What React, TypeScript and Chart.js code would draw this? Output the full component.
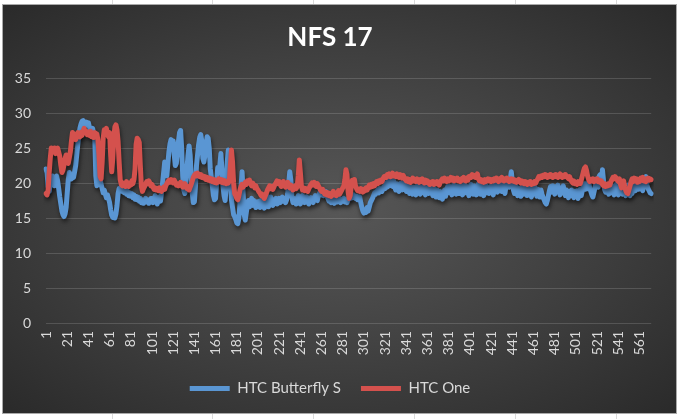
import React, { useEffect, useRef } from "react";
import { Chart, registerables } from "chart.js";

Chart.register(...registerables);

const TITLE = "NFS 17";
const SERIES_NAMES = ["HTC Butterfly S", "HTC One"];
const POINT_COUNT = 572;
const LABEL_STEP = 20;
const categories: string[] = Array.from({ length: POINT_COUNT }, (_, i) => String(i + 1));
const yTicks = [0, 5, 10, 15, 20, 25, 30, 35];

const butterflyS = [
  22, 21.5, 19.5, 18.8, 20, 20.5, 21, 20.2, 19.6, 20.4, 21, 20.3, 19.2, 18, 17, 16, 15.5, 15.2, 15.6, 16.5,
  18.5, 20.5, 21.5, 21, 20.6, 21.2, 20.8, 21.6, 22.5, 24, 25.5, 26.8, 27.8, 28.4, 28.8, 28.9, 28.6, 28.2, 28.7, 28.4,
  28.6, 28, 27.5, 27.2, 27.8, 27, 26.5, 21, 19.6, 20.3, 19.8, 20.6, 19.8, 19.2, 18.6, 19, 18.4, 17.9, 18.3, 17.8,
  17.2, 16.2, 15.4, 15.1, 15.3, 15, 15.6, 16.8, 18.5, 19.2, 19, 19.4, 18.8, 19.2, 18.6, 19, 18.4, 18.8, 18.2, 18.6,
  18.1, 18.5, 17.9, 18.3, 17.7, 18.1, 17.6, 18, 17.4, 17.8, 17.2, 17.6, 17.1, 17.5, 17.8, 17.3, 17.6, 17.1, 17.5, 17.8,
  17.8, 17.2, 17.6, 18.2, 17.5, 17, 17.6, 18, 17.4, 18.6, 20, 21.5, 23, 22, 21, 22.8, 24.5, 25.6, 26.2, 25.5,
  26, 24, 22.5, 22.8, 24.5, 26, 27.2, 27.5, 25, 21, 19, 18.5, 20, 22, 24, 25.3, 24, 21, 18.5, 17.2,
  17.3, 19.5, 22.5, 24, 25.5, 26.5, 26.9, 26, 23.5, 23, 24, 25.5, 26.6, 26.4, 25, 22, 20.8, 19.5, 18.2, 17.6,
  17.8, 20, 22.2, 21.5, 22.5, 24.2, 22, 19.5, 18.2, 17.5, 19.5, 23, 24.7, 23.5, 20, 17.6, 16.5, 15.5, 15.2, 14.8,
  14.3, 14.2, 15, 17, 19.5, 21.6, 18.5, 15.5, 14.7, 15.8, 16.8, 17.5, 16.6, 17.2, 17.8, 16.8, 17.5, 17, 16.5, 17.3,
  16.8, 17.4, 16.5, 17.2, 17.8, 17, 16.4, 17.5, 18.3, 17.2, 16.6, 17.4, 18, 17.2, 16.8, 17.6, 17.2, 17.8, 17, 17.5,
  17.8, 17.2, 17.6, 18, 17.4, 17.8, 17.2, 17.6, 18.5, 20, 21.6, 20.5, 18, 17.2, 17.8, 17.5, 17, 17.8, 18.2, 17.4,
  17, 17.6, 18.2, 17.5, 17.2, 17.8, 18, 17.3, 17, 17.6, 17.9, 17.4, 17.2, 17.8, 18.2, 17.6, 17.5, 18.2, 18.5, 18.8,
  18.3, 18.6, 18.2, 18.5, 18.8, 18.2, 17.8, 17.4, 17.6, 17.2, 17.8, 17.4, 17.1, 17.6, 17.8, 17.3, 17.5, 17.8, 17.2, 17.6,
  17.5, 17.8, 17.3, 17.6, 17.2, 17.6, 18, 17.8, 18.2, 17.9, 18.3, 18, 17.8, 18.1, 17.6, 17.8, 18, 17.2, 16.5, 16,
  15.7, 16.2, 15.8, 16.5, 16, 16.6, 17.2, 17.5, 17.8, 18.2, 18.6, 18.4, 18.8, 19, 18.6, 19.2, 19, 18.8, 19.3, 19.5,
  19.2, 20, 19.4, 20.4, 19.6, 20.2, 20.5, 19.5, 20.3, 19.4, 19, 19.9, 19.2, 18.8, 19.7, 20, 19, 19.6, 20.1, 19.2,
  18.8, 19.7, 19.1, 18.5, 19.5, 18.9, 18.4, 19.4, 18.8, 18.3, 19.3, 19.8, 18.7, 18.4, 19.4, 18.6, 19.6, 18.9, 18.3, 19.2,
  19.5, 18.5, 19.1, 19.7, 18.6, 18.2, 19.3, 18.5, 18, 19, 18.3, 17.9, 18.8, 18.1, 17.7, 18.6, 19, 18.1, 19.1, 19.5,
  18.6, 19.5, 18.9, 18.3, 19.4, 19.8, 18.8, 18.4, 19.5, 18.9, 18.5, 19.6, 19, 18.3, 19.3, 19.8, 18.6, 19.5, 18.9, 18.2,
  19.3, 19.8, 18.8, 18.4, 19.6, 19, 18.3, 19.4, 19.9, 19.1, 18.4, 19.5, 18.9, 18.2, 19.2, 19.7, 18.6, 19.4, 18.5, 19.2,
  19.6, 18.8, 18.3, 19.3, 19.9, 19.2, 18.7, 19.6, 20.1, 19.3, 18.8, 19.8, 19.2, 18.5, 19.5, 20, 20.5, 19.4, 20.6, 21.6,
  20.3, 19, 18.5, 19.6, 18.8, 18.2, 19.3, 18.6, 18.1, 19.1, 19.6, 18.4, 18.8, 19.5, 18.2, 18.8, 19.6, 18.6, 18, 19.1,
  18.5, 19.5, 18.8, 18.1, 19.1, 18.5, 18, 19, 18.4, 17.9, 17.6, 17.2, 17, 17.5, 18.2, 18.9, 19.5, 18.7, 19.6, 19,
  18.4, 19.5, 18.7, 19.7, 19, 18.3, 19.3, 18.6, 19.6, 18.8, 18.2, 19, 18.4, 17.9, 18.8, 18.2, 19, 18.3, 17.9, 18.8,
  18.1, 18.9, 17.8, 18.6, 19.1, 18.2, 18.9, 19.4, 19.9, 19.1, 19.9, 19.2, 20.1, 19.3, 18.8, 18.3, 18, 18.7, 19.4, 20,
  20.6, 19.4, 21, 21.2, 20, 21.9, 20.4, 19.1, 18.7, 19.7, 18.9, 18.4, 19.4, 18.6, 19.6, 18.8, 18.3, 19.3, 19.8, 18.7,
  18.3, 19.4, 19.9, 18.8, 18.4, 19.5, 18.7, 18.2, 19.2, 19.7, 18.6, 18.2, 19.3, 18.5, 19.5, 19.9, 18.9, 19.7, 20.2, 19.1,
  19.9, 20.4, 19.3, 18.9, 20, 20.5, 20.9, 19.7, 19.2, 18.9, 18.6, 18.5,
];

const htcOne = [
  18.5, 18.3, 19, 21.5, 23.5, 25, 24.8, 24.5, 25, 24.2, 24.6, 25, 24.4, 23.8, 22.5, 21.5, 21.8, 22.6, 23.5, 24,
  23.2, 22.8, 23.6, 24.5, 26, 27.2, 27, 26.6, 26.2, 26.8, 27.2, 27, 26.6, 27.2, 26.8, 27.4, 27.8, 27.2, 27.4, 26.9,
  27.2, 26.8, 27.4, 26.6, 27, 26.5, 27.2, 26.8, 27, 26.2, 24, 21, 20.6, 23, 26.5, 27.6, 27.2, 27.8, 27, 26.6,
  27.2, 24, 21.6, 23.5, 26.5, 28, 28.3, 27.6, 26, 23, 20.5, 19.8, 19.6, 20, 19.8, 19.5, 20.2, 19.8, 19.5, 20,
  19.7, 20.3, 19.9, 20.5, 22, 25.5, 26.4, 26.2, 25.8, 22.5, 19.5, 18.8, 19.2, 19.5, 19.8, 20.2, 19.9, 20.3, 20, 19.6,
  19.8, 19.4, 19.1, 19.3, 19, 19.2, 18.9, 19.3, 19.1, 18.8, 19.2, 19.4, 19.1, 19.6, 19.9, 20.2, 20.4, 20.1, 20.5, 20.3,
  20, 20.4, 20.1, 19.7, 19.9, 19.6, 19.8, 20.1, 19.7, 19.4, 19.6, 19.9, 19.5, 19.2, 19.5, 19, 19.4, 19.8, 20.3, 20.8,
  21.1, 21.3, 21, 21.4, 21.2, 20.9, 21.2, 20.8, 21, 20.7, 20.9, 20.5, 20.8, 20.4, 20.7, 20.3, 20.6, 20.2, 20.5, 20.1,
  20.4, 20, 20.3, 20.6, 20.2, 20.5, 20.1, 20.4, 20, 20.3, 19.9, 20.2, 20, 20.4, 22.5, 24.7, 23, 20, 18.5, 18.2,
  17.8, 17.6, 18.2, 19, 19.5, 19.8, 19.4, 19.7, 20.1, 19.8, 20.3, 20, 20.4, 19.9, 19.6, 20, 19.7, 19.3, 19.6, 19.2,
  19, 18.7, 18.5, 18.2, 18.4, 18, 17.8, 18.2, 18.6, 19, 19.3, 19.6, 19.2, 19.5, 19.1, 19.4, 19.8, 20, 20.3, 19.9,
  20.2, 19.8, 19.5, 19.9, 20.2, 19.7, 19.4, 19.8, 20.1, 19.6, 19.3, 19.7, 19.4, 19, 19.3, 19.6, 19.2, 19.5, 21, 23.3,
  21.5, 19.5, 19, 19.3, 18.9, 19.2, 19, 18.8, 19.2, 19.5, 19.8, 20, 19.7, 20.1, 19.8, 19.5, 19.9, 19.6, 19.3, 19,
  18.8, 19.1, 18.7, 18.4, 18.7, 18.3, 18.6, 18.2, 18.5, 18.1, 18.4, 18.8, 18.3, 18.6, 18.2, 18.5, 18.9, 18.4, 18.7, 19,
  19.3, 19.6, 20.5, 21.9, 21.2, 18.8, 17.8, 18.2, 19.5, 20.4, 20.2, 20.5, 19.6, 19.2, 18.9, 19.1, 18.8, 19.2, 19, 18.7,
  19.1, 18.9, 19.3, 19, 19.4, 19.7, 19.4, 19.8, 19.5, 19.9, 19.6, 20, 20.2, 19.9, 20.3, 20.1, 20.4, 20.2, 20.6, 20.9,
  21, 20.8, 21.2, 21, 21.3, 20.9, 21.1, 21.4, 21, 21.2, 20.9, 21.3, 21.1, 20.8, 21.2, 21, 20.7, 21.1, 20.8, 20.5,
  20.3, 20.6, 20.2, 20.5, 20.1, 20.4, 20.7, 20.3, 20.5, 20.2, 20.6, 20.3, 20.1, 20.5, 20.2, 20.6, 20.3, 20, 20.4, 20.1,
  20.3, 20, 19.8, 20.1, 19.9, 20.2, 19.8, 20.1, 19.9, 20.2, 20, 19.7, 20.1, 20.4, 20.6, 20.3, 20.7, 20.4, 20.2, 20.6,
  20.3, 20.5, 20.8, 20.4, 20.7, 20.3, 20.6, 20.4, 20.7, 20.3, 20.5, 20.2, 20.6, 20.4, 20.8, 20.5, 20.3, 20.7, 20.4, 20.9,
  21, 20.8, 21.2, 20.9, 21.1, 20.8, 21, 21.3, 20.6, 20.3, 20.5, 20.2, 20.4, 20.1, 20.5, 20.2, 20.4, 20.6, 20.3, 20.5,
  20.2, 20.5, 20.3, 20.6, 20.4, 20.7, 20.5, 20.2, 20.6, 20.4, 20.8, 20.5, 20.3, 20.6, 20.4, 20.7, 20.5, 20.2, 20.4, 20.6,
  20.3, 20.5, 20.2, 20.4, 20.1, 20.3, 20.5, 20.2, 20, 20.3, 20.1, 19.9, 20.2, 20, 19.8, 20.1, 19.9, 20.2, 19.8, 20,
  19.9, 20.2, 20, 20.3, 20.6, 20.9, 20.7, 21, 20.8, 21.1, 20.9, 21.2, 21, 20.8, 21.1, 20.9, 21.2, 21, 20.8, 21.1,
  20.9, 21.2, 21, 20.8, 21.1, 21.3, 21, 20.8, 21.1, 20.9, 21.2, 21, 20.8, 20.6, 20.9, 20.5, 20.2, 20, 20.3, 19.9,
  20.1, 19.8, 20.2, 20, 19.9, 20.4, 21, 21.6, 22.1, 22.3, 21.8, 21, 20.5, 20.2, 20.5, 20.3, 20.6, 20.2, 20.5, 20.3,
  20.6, 20.2, 20.4, 20.1, 20.3, 19.8, 19.6, 19.9, 19.5, 19.8, 19.6, 19.9, 19.7, 20.2, 20.5, 20.8, 20.6, 20.9, 20.7, 20.4,
  20.2, 20.6, 19.8, 19.3, 19.8, 20.3, 19.5, 18.9, 18.6, 18.5, 19, 19.6, 20.2, 20.6, 20.2, 20.7, 20.3, 20.6, 20.1, 20.5,
  20.2, 20.7, 20.4, 20.8, 20.3, 20.6, 20.2, 20.5, 20.7, 20.4, 20.6, 20.5,
];

const BLUE = "#5a96d3";
const RED = "#d4514d";
const TEXT = "#d9d9d9";
const FONT = "Lato, 'Open Sans', sans-serif";

export default function App() {
  const canvasRef = useRef<HTMLCanvasElement | null>(null);

  useEffect(() => {
    const canvas = canvasRef.current;
    if (!canvas) return;

    const shadowPlugin = {
      id: "lineShadow",
      beforeDatasetsDraw(chart: any) {
        const c = chart.ctx;
        c.save();
        c.shadowColor = "rgba(0,0,0,0.55)";
        c.shadowBlur = 4;
        c.shadowOffsetX = 1;
        c.shadowOffsetY = 3;
      },
      afterDatasetsDraw(chart: any) {
        chart.ctx.restore();
      },
    };

    const chart = new Chart(canvas, {
      type: "line",
      data: {
        labels: categories,
        datasets: [
          {
            label: SERIES_NAMES[0],
            data: butterflyS,
            borderColor: BLUE,
            backgroundColor: BLUE,
            borderWidth: 5,
            pointRadius: 0,
            tension: 0,
            borderJoinStyle: "round",
            borderCapStyle: "round",
            order: 2,
          },
          {
            label: SERIES_NAMES[1],
            data: htcOne,
            borderColor: RED,
            backgroundColor: RED,
            borderWidth: 5,
            pointRadius: 0,
            tension: 0,
            borderJoinStyle: "round",
            borderCapStyle: "round",
            order: 1,
          },
        ],
      },
      options: {
        responsive: false,
        animation: false,
        devicePixelRatio: 1,
        layout: { padding: { left: 0, right: 19, top: 0, bottom: 7 } },
        plugins: {
          tooltip: { enabled: false },
          title: {
            display: true,
            text: TITLE,
            color: "#ffffff",
            font: { family: FONT, size: 26, weight: "bold", lineHeight: 1.2 },
            padding: { top: 17.4, bottom: 24.4 },
          },
          legend: {
            display: true,
            position: "bottom",
            labels: {
              color: TEXT,
              font: { family: FONT, size: 15 },
              boxWidth: 40,
              boxHeight: 5,
              padding: 20,
              sort: (a: any, b: any) => a.datasetIndex - b.datasetIndex,
              generateLabels: (ch: any) =>
                Chart.defaults.plugins.legend.labels
                  .generateLabels(ch)
                  .map((l: any) => ({ ...l, lineWidth: 0, fillStyle: l.strokeStyle })),
            },
          },
        },
        scales: {
          x: {
            type: "category",
            offset: false,
            grid: { display: false, drawTicks: false },
            border: { display: false },
            ticks: {
              autoSkip: false,
              minRotation: 90,
              maxRotation: 90,
              padding: 8,
              color: TEXT,
              font: { family: FONT, size: 14 },
              callback: (_v: any, i: number) => (i % LABEL_STEP === 0 ? categories[i] : ""),
            },
            afterFit: (s: any) => {
              s.height = 38;
            },
          },
          y: {
            min: yTicks[0],
            max: yTicks[yTicks.length - 1],
            grid: { color: "rgba(255,255,255,0.15)", lineWidth: 1, drawTicks: false },
            border: { display: false },
            ticks: {
              stepSize: 5,
              padding: 15,
              color: TEXT,
              font: { family: FONT, size: 14 },
            },
            afterFit: (s: any) => {
              s.width = 43;
            },
          },
        },
      },
      plugins: [shadowPlugin],
    });

    return () => chart.destroy();
  }, []);

  const cellLines = [112, 212, 313, 414, 515, 616];

  return (
    <div style={{ position: "relative", width: 680, height: 419, background: "#ffffff", overflow: "hidden" }}>
      <style>{`body{margin:0;background:#fff}`}</style>
      {cellLines.map((x) => (
        <div key={"t" + x} style={{ position: "absolute", left: x, top: 0, width: 1, height: 5, background: "#dadada" }} />
      ))}
      {cellLines.map((x) => (
        <div key={"b" + x} style={{ position: "absolute", left: x, top: 413, width: 1, height: 6, background: "#dadada" }} />
      ))}
      <div
        style={{
          position: "absolute",
          left: 3,
          top: 5,
          width: 673,
          height: 408,
          background: "radial-gradient(ellipse at 50% 50%, #575757 0%, #3f3f3f 55%, #2a2a2a 100%)",
          boxShadow: "0 0 0 1px #a9a9a9",
        }}
      >
        <canvas ref={canvasRef} width={673} height={408} style={{ display: "block", width: 673, height: 408 }} />
      </div>
    </div>
  );
}
